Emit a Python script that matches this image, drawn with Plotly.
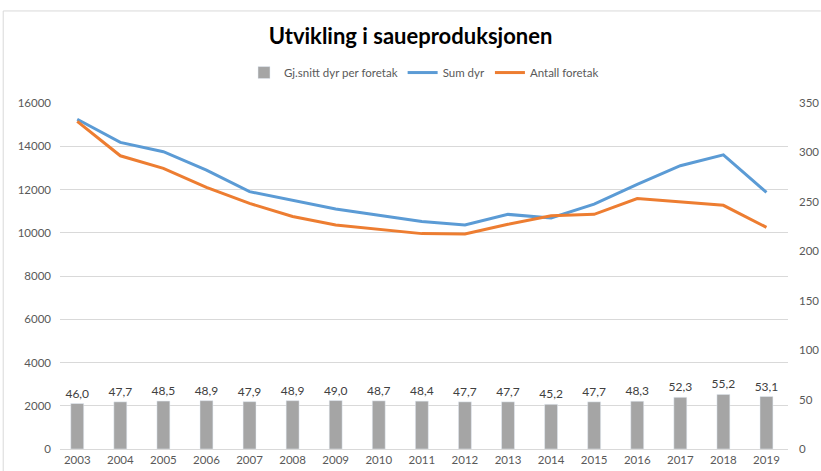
import plotly.graph_objects as go

years = list(range(2003, 2020))
snitt_dyr = [46.0, 47.7, 48.5, 48.9, 47.9, 48.9, 49.0, 48.7, 48.4, 47.7, 47.7, 45.2, 47.7, 48.3, 52.3, 55.2, 53.1]
sum_dyr = [15250, 14180, 13750, 12900, 11900, 11510, 11100, 10810, 10520, 10360, 10850, 10680, 11320, 12240, 13100, 13600, 11870]
antall_foretak = [15150, 13560, 12980, 12100, 11360, 10750, 10360, 10170, 9960, 9940, 10390, 10790, 10850, 11580, 11440, 11270, 10250]

font = "Lato"
grey_txt = "#595959"

fig = go.Figure()
fig.add_trace(go.Bar(
    x=years, y=snitt_dyr, name="Gj.snitt dyr per foretak", yaxis="y2",
    marker_color="#a5a5a5", width=0.3,
    text=[f"{v:.1f}".replace(".", ",") for v in snitt_dyr],
    textposition="outside", cliponaxis=False, constraintext="none",
    textfont=dict(size=12, color="#404040", family=font),
))
fig.add_trace(go.Scatter(
    x=years, y=sum_dyr, name="Sum dyr", mode="lines",
    line=dict(color="#5b9bd5", width=3),
))
fig.add_trace(go.Scatter(
    x=years, y=antall_foretak, name="Antall foretak", mode="lines",
    line=dict(color="#ed7d31", width=3),
))

fig.update_layout(
    width=821, height=471,
    paper_bgcolor="white", plot_bgcolor="white",
    margin=dict(l=60, r=33, t=103, b=22),
    font=dict(family=font, color=grey_txt, size=11),
    title=dict(text="<b>Utvikling i saueproduksjonen</b>", x=0.5, xanchor="center",
               y=0.922, yanchor="middle",
               font=dict(size=22, color="black", family=font)),
    legend=dict(orientation="h", x=0.5, xanchor="center", y=1.088, yanchor="middle",
                font=dict(size=11.5, color=grey_txt), itemwidth=30, traceorder="normal"),
    xaxis=dict(range=[2002.6, 2019.5], tickmode="array", tickvals=years, automargin=False,
               ticks="", showgrid=False, showline=True, linecolor="#d9d9d9",
               tickfont=dict(size=11.5, color=grey_txt)),
    yaxis=dict(range=[0, 16000], dtick=2000, tickformat="d", gridcolor="#d9d9d9",
               automargin=False, zeroline=False,
               tickfont=dict(size=11.5, color=grey_txt), ticklabelstandoff=8),
    yaxis2=dict(range=[0, 350], dtick=50, overlaying="y", side="right", showgrid=False,
                automargin=False, zeroline=False,
                tickfont=dict(size=11.5, color=grey_txt), ticklabelstandoff=10),
    bargap=0.7,
    shapes=[
        dict(type="line", xref="paper", yref="paper", x0=-0.078, x1=1.045,
             y0=1.266, y1=1.266, line=dict(color="#d9d9d9", width=1)),
        dict(type="line", xref="paper", yref="paper", x0=-0.078, x1=-0.078,
             y0=-0.07, y1=1.266, line=dict(color="#d9d9d9", width=1)),
    ],
)

# drop the default body margin so the figure sits flush in the window
fig.write_html("out.html", config={"displayModeBar": False},
               post_script="document.body.style.margin='0';")
